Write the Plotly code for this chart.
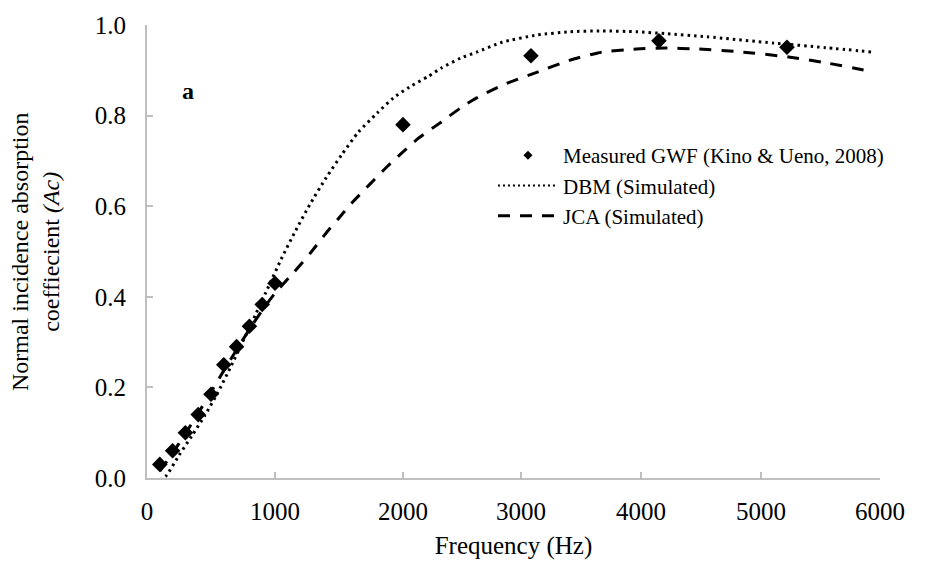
import plotly.graph_objects as go

# Measured GWF (Kino & Ueno, 2008)
meas_f = [100, 200, 300, 400, 500, 600, 700, 800, 900, 1000, 2000, 3000, 4000, 5000]
meas_a = [0.03, 0.06, 0.10, 0.14, 0.185, 0.25, 0.29, 0.335, 0.383, 0.43, 0.78, 0.932, 0.965, 0.951]

# DBM (Simulated)
dbm_f = [100, 150, 250, 350, 450, 550, 650, 750, 850, 950, 1050, 1150, 1275, 1400, 1525,
         1650, 1800, 1925, 2050, 2200, 2300, 2450, 2575, 2775, 3050, 3300, 3550, 3825,
         4050, 4375, 4900, 5300, 5675]
dbm_a = [-0.005, 0.005, 0.05, 0.093, 0.137, 0.187, 0.243, 0.302, 0.362, 0.423, 0.484, 0.540,
         0.605, 0.663, 0.715, 0.763, 0.806, 0.839, 0.863, 0.887, 0.905, 0.927, 0.940, 0.962,
         0.978, 0.985, 0.987, 0.985, 0.981, 0.974, 0.960, 0.950, 0.940]

# JCA (Simulated)
jca_f = [100, 200, 300, 400, 500, 600, 700, 800, 900, 1000, 1150, 1275, 1400, 1500, 1600,
         1750, 1875, 2000, 2125, 2300, 2450, 2575, 2775, 3050, 3300, 3550, 3825, 4050,
         4300, 4625, 5025, 5275, 5650]
jca_a = [0.015, 0.055, 0.098, 0.143, 0.19, 0.237, 0.283, 0.328, 0.37, 0.408, 0.455, 0.496,
         0.541, 0.574, 0.607, 0.651, 0.687, 0.720, 0.751, 0.786, 0.817, 0.839, 0.867, 0.896,
         0.922, 0.940, 0.947, 0.949, 0.947, 0.941, 0.929, 0.918, 0.898]

# Axis ticks as drawn in the reference picture
x_tickvals = [0, 1000, 2000, 2922, 3859, 4797, 5727]
x_ticktext = ["0", "1000", "2000", "3000", "4000", "5000", "6000"]
y_tickvals = [0, 0.2, 0.4, 0.6, 0.8, 1.0]

FONT = "Liberation Serif, Times New Roman, serif"

fig = go.Figure()

fig.add_trace(go.Scatter(x=dbm_f, y=dbm_a, mode="lines", showlegend=False,
                         line=dict(color="black", width=3, dash="2.5px,4px",
                                   shape="spline", smoothing=0.6)))
fig.add_trace(go.Scatter(x=jca_f, y=jca_a, mode="lines", showlegend=False,
                         line=dict(color="black", width=3, dash="12px,10px",
                                   shape="spline", smoothing=0.6)))
fig.add_trace(go.Scatter(x=meas_f, y=meas_a, mode="markers", showlegend=False,
                         marker=dict(symbol="diamond", size=12, color="black")))

# legend entries
fig.add_trace(go.Scatter(x=[None], y=[None], mode="markers", name="Measured GWF (Kino &amp; Ueno, 2008)",
                         marker=dict(symbol="diamond", size=7, color="black")))
fig.add_trace(go.Scatter(x=[None], y=[None], mode="lines", name="DBM (Simulated)",
                         line=dict(color="black", width=2, dash="2px,3px")))
fig.add_trace(go.Scatter(x=[None], y=[None], mode="lines", name="JCA (Simulated)",
                         line=dict(color="black", width=3, dash="12px,10px")))

fig.add_annotation(text="<b>a</b>", x=0.0555, y=0.855, xref="paper", yref="paper",
                   xanchor="center", yanchor="middle",
                   showarrow=False, font=dict(family=FONT, size=24, color="black"))

fig.add_annotation(text="Normal incidence absorption<br>coeffiecient <i>(Ac)</i>",
                   x=-0.152, y=0.5, xref="paper", yref="paper", textangle=-90,
                   showarrow=False, xanchor="center", yanchor="middle",
                   font=dict(family=FONT, size=24, color="black"))

axis_common = dict(showline=True, linecolor="#BFBFBF", linewidth=2, ticks="inside",
                   ticklen=6, tickcolor="#BFBFBF", tickwidth=2, showgrid=False,
                   zeroline=False, automargin=False,
                   tickfont=dict(family=FONT, size=25, color="black"))

fig.update_xaxes(range=[0, 5727], tickvals=x_tickvals, ticktext=x_ticktext,
                 ticklabelstandoff=10,
                 title=dict(text="Frequency (Hz)", font=dict(family=FONT, size=25, color="black"),
                            standoff=12),
                 **axis_common)
fig.update_yaxes(range=[0, 1.0], tickvals=y_tickvals, tickformat=".1f",
                 ticklabelstandoff=14, **axis_common)

fig.update_layout(
    width=944, height=562,
    margin=dict(l=147, r=64, t=25, b=84),
    plot_bgcolor="white", paper_bgcolor="white",
    font=dict(family=FONT, color="black"),
    legend=dict(x=0.472, y=0.757, xanchor="left", yanchor="top",
                bgcolor="rgba(0,0,0,0)", itemwidth=60,
                font=dict(family=FONT, size=21, color="black"), tracegroupgap=0),
)

fig.write_html("out.html")
